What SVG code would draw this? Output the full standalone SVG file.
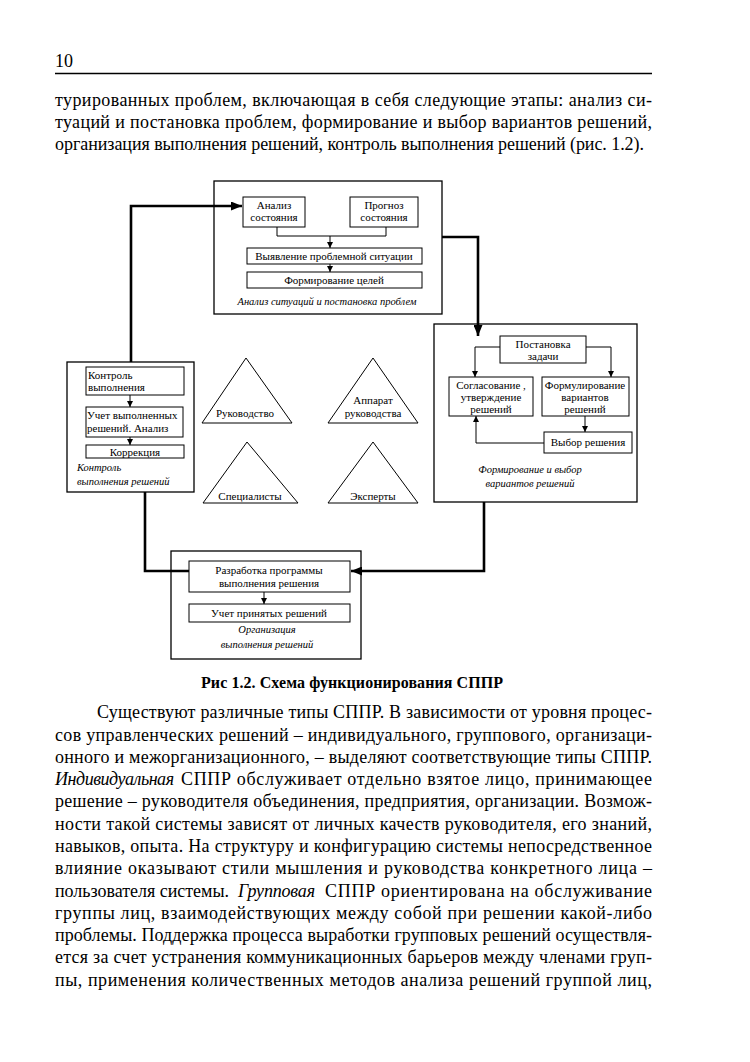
<svg xmlns="http://www.w3.org/2000/svg" width="750" height="1062" viewBox="0 0 750 1062">
<defs>
<marker id="big" markerWidth="11" markerHeight="9" refX="11" refY="4.5" orient="auto" markerUnits="userSpaceOnUse"><path d="M0,0 L11,4.5 L0,9 Z" fill="#000"/></marker>
<marker id="sm" markerWidth="6" markerHeight="6" refX="6" refY="3" orient="auto" markerUnits="userSpaceOnUse"><path d="M0,0 L6,3 L0,6 Z" fill="#000"/></marker>
</defs>
<style>
.pg{font-family:"Liberation Serif","Times New Roman",serif;font-size:18px;fill:#000}
.it{font-style:italic}
.cap{font-family:"Liberation Serif","Times New Roman",serif;font-size:16px;font-weight:bold;fill:#000}
.t{font-family:"Liberation Serif","Times New Roman",serif;font-size:11px;fill:#000}
.c{text-anchor:middle}
.li{font-family:"Liberation Serif","Times New Roman",serif;font-size:10.5px;font-style:italic;fill:#000}
.outer{fill:#fff;stroke:#000;stroke-width:1.3}
.box{fill:#fff;stroke:#000;stroke-width:1}
.thick{fill:none;stroke:#000;stroke-width:2.6}
.thin{fill:none;stroke:#000;stroke-width:1}
</style>
<rect width="750" height="1062" fill="#fff"/>
<text class="pg" x="55" y="67">10</text>
<line x1="55" y1="73.5" x2="652" y2="73.5" stroke="#000" stroke-width="1.6"/>
<text class="pg" x="55" y="106" textLength="597" lengthAdjust="spacing">турированных проблем, включающая в себя следующие этапы: анализ си-</text>
<text class="pg" x="55" y="128" textLength="597" lengthAdjust="spacing">туаций и постановка проблем, формирование и выбор вариантов решений,</text>
<text class="pg" x="55" y="150" textLength="589" lengthAdjust="spacing">организация выполнения решений, контроль выполнения решений (рис. 1.2).</text>

<g id="box-analysis">
<rect class="outer" x="214" y="181" width="228" height="133"/>
<rect class="box" x="243" y="197" width="62" height="30"/>
<text class="t c" x="274" y="209">Анализ</text>
<text class="t c" x="274" y="221">состояния</text>
<rect class="box" x="350" y="197" width="68" height="30"/>
<text class="t c" x="384" y="209">Прогноз</text>
<text class="t c" x="384" y="221">состояния</text>
<polyline class="thin" points="277,227 277,236 386,236 386,227"/>
<line class="thin" x1="330" y1="236" x2="330" y2="248" marker-end="url(#sm)"/>
<rect class="box" x="247" y="248" width="175" height="16"/>
<text class="t c" x="334" y="260">Выявление проблемной ситуации</text>
<line class="thin" x1="330" y1="264" x2="330" y2="272" marker-end="url(#sm)"/>
<rect class="box" x="247" y="272" width="175" height="16"/>
<text class="t c" x="334" y="284">Формирование целей</text>
<text class="li c" x="327" y="305">Анализ ситуаций и постановка проблем</text>
</g>

<g id="box-forming">
<rect class="outer" x="434" y="324" width="203" height="178"/>
<rect class="box" x="500" y="336" width="86" height="27"/>
<text class="t c" x="543" y="348">Постановка</text>
<text class="t c" x="543" y="360">задачи</text>
<polyline class="thin" points="500,347 475,347 475,377" marker-end="url(#sm)"/>
<polyline class="thin" points="586,347 611,347 611,377" marker-end="url(#sm)"/>
<rect class="box" x="449" y="377" width="84" height="39"/>
<text class="t c" x="491" y="389">Согласование ,</text>
<text class="t c" x="491" y="401">утверждение</text>
<text class="t c" x="491" y="413">решений</text>
<rect class="box" x="542" y="377" width="87" height="39"/>
<text class="t c" x="585" y="389">Формулирование</text>
<text class="t c" x="585" y="401">вариантов</text>
<text class="t c" x="585" y="413">решений</text>
<line class="thin" x1="585" y1="416" x2="585" y2="432" marker-end="url(#sm)"/>
<rect class="box" x="544" y="432" width="88" height="21"/>
<text class="t c" x="588" y="446">Выбор решения</text>
<polyline class="thin" points="544,443 476,443 476,416" marker-end="url(#sm)"/>
<text class="li c" x="530" y="473">Формирование и выбор</text>
<text class="li c" x="530" y="487">вариантов решений</text>
</g>

<g id="box-control">
<rect class="outer" x="67" y="362" width="127" height="130"/>
<rect class="box" x="86" y="367" width="98" height="28"/>
<text class="t" x="88" y="379">Контроль</text>
<text class="t" x="88" y="391">выполнения</text>
<line class="thin" x1="130" y1="395" x2="130" y2="407" marker-end="url(#sm)"/>
<rect class="box" x="86" y="407" width="97" height="30"/>
<text class="t" x="87" y="419">Учет выполненных</text>
<text class="t" x="87" y="432">решений. Анализ</text>
<line class="thin" x1="130" y1="437" x2="130" y2="445" marker-end="url(#sm)"/>
<rect class="box" x="86" y="445" width="98" height="13"/>
<text class="t c" x="135" y="456">Коррекция</text>
<text class="li" x="77" y="471">Контроль</text>
<text class="li" x="77" y="485">выполнения решений</text>
</g>

<g id="box-organization">
<rect class="outer" x="171" y="551" width="190" height="108"/>
<rect class="box" x="189" y="561" width="161" height="31"/>
<text class="t c" x="269" y="574">Разработка программы</text>
<text class="t c" x="269" y="587">выполнения решения</text>
<line class="thin" x1="264" y1="592" x2="264" y2="604" marker-end="url(#sm)"/>
<rect class="box" x="189" y="604" width="161" height="18"/>
<text class="t c" x="269" y="617">Учет принятых решений</text>
<text class="li c" x="267" y="633">Организация</text>
<text class="li c" x="267" y="648">выполнения решений</text>
</g>

<g id="tri-management">
<polygon class="box" points="246,358 202,423 292,423"/>
<text class="t c" x="245" y="417">Руководство</text>
</g>
<g id="tri-apparatus">
<polygon class="box" points="373,358 328,423 418,423"/>
<text class="t c" x="373" y="404">Аппарат</text>
<text class="t c" x="373" y="417">руководства</text>
</g>
<g id="tri-specialists">
<polygon class="box" points="247,442 203,503 298,503"/>
<text class="t c" x="250" y="500">Специалисты</text>
</g>
<g id="tri-experts">
<polygon class="box" points="373,442 328,503 418,503"/>
<text class="t c" x="373" y="500">Эксперты</text>
</g>

<g id="connectors">
<polyline class="thick" points="131,362 131,206 242,206" marker-end="url(#big)"/>
<polyline class="thick" points="442,237 478,237 478,336" marker-end="url(#big)"/>
<polyline class="thick" points="484,502 484,571 351,571" marker-end="url(#big)"/>
<polyline class="thick" points="189,571 145,571 145,492"/>
</g>

<text class="cap" x="201" y="688" textLength="302" lengthAdjust="spacing">Рис 1.2. Схема функционирования СППР</text>

<text class="pg" x="97" y="718" textLength="555" lengthAdjust="spacing">Существуют различные типы СППР. В зависимости от уровня процес-</text>
<text class="pg" x="55" y="741" textLength="597" lengthAdjust="spacing">сов управленческих решений – индивидуального, группового, организаци-</text>
<text class="pg" x="55" y="763" textLength="597" lengthAdjust="spacing">онного и межорганизационного, – выделяют соответствующие типы СППР.</text>
<text class="pg it" x="55" y="785" textLength="119" lengthAdjust="spacing">Индивидуальная</text>
<text class="pg" x="181" y="785" textLength="471" lengthAdjust="spacing">СППР обслуживает отдельно взятое лицо, принимающее</text>
<text class="pg" x="55" y="807" textLength="597" lengthAdjust="spacing">решение – руководителя объединения, предприятия, организации. Возмож-</text>
<text class="pg" x="55" y="830" textLength="597" lengthAdjust="spacing">ности такой системы зависят от личных качеств руководителя, его знаний,</text>
<text class="pg" x="55" y="852" textLength="597" lengthAdjust="spacing">навыков, опыта. На структуру и конфигурацию системы непосредственное</text>
<text class="pg" x="55" y="874" textLength="597" lengthAdjust="spacing">влияние оказывают стили мышления и руководства конкретного лица –</text>
<text class="pg" x="55" y="897" textLength="174" lengthAdjust="spacing">пользователя системы.</text>
<text class="pg it" x="238" y="897" textLength="77" lengthAdjust="spacing">Групповая</text>
<text class="pg" x="325" y="897" textLength="327" lengthAdjust="spacing">СППР ориентирована на обслуживание</text>
<text class="pg" x="55" y="919" textLength="597" lengthAdjust="spacing">группы лиц, взаимодействующих между собой при решении какой-либо</text>
<text class="pg" x="55" y="941" textLength="597" lengthAdjust="spacing">проблемы. Поддержка процесса выработки групповых решений осуществля-</text>
<text class="pg" x="55" y="963" textLength="597" lengthAdjust="spacing">ется за счет устранения коммуникационных барьеров между членами груп-</text>
<text class="pg" x="55" y="986" textLength="597" lengthAdjust="spacing">пы, применения количественных методов анализа решений группой лиц,</text>
</svg>
